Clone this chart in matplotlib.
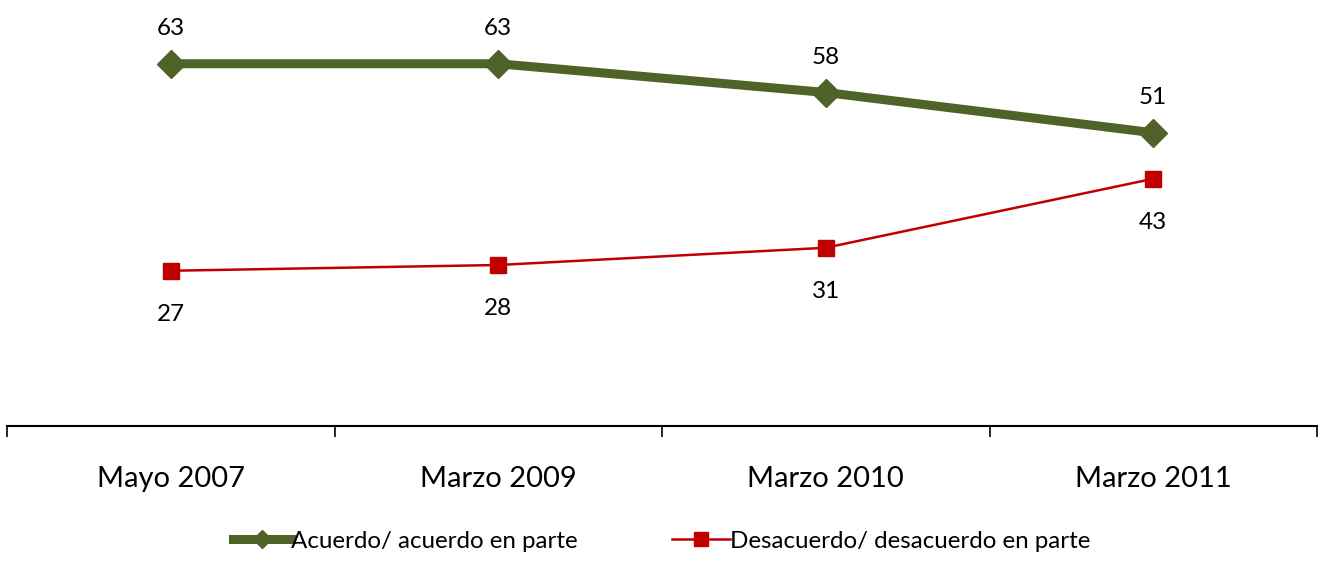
import matplotlib
matplotlib.use("Agg")
import matplotlib.pyplot as plt
from matplotlib.lines import Line2D

categories = ["Mayo 2007", "Marzo 2009", "Marzo 2010", "Marzo 2011"]
acuerdo = [63, 63, 58, 51]
desacuerdo = [27, 28, 31, 43]
series_names = ["Acuerdo/ acuerdo en parte", "Desacuerdo/ desacuerdo en parte"]

green = "#4F6228"
red = "#C00000"

plt.rcParams["font.family"] = ["Lato", "DejaVu Sans"]

fig = plt.figure(figsize=(13.23, 5.61), dpi=100)
ax = fig.add_axes([7 / 1323, (561 - 426) / 561, 1310 / 1323, 402.5 / 561])

x = list(range(len(categories)))
ax.plot(x, acuerdo, color=green, lw=6.5, marker="D", ms=14, solid_joinstyle="round")
ax.plot(x, desacuerdo, color=red, lw=1.8, marker="s", ms=11.5)

for i, v in enumerate(acuerdo):
    ax.annotate(str(v), (i, v), xytext=(0, 18), textcoords="offset points",
                ha="center", va="bottom", fontsize=17.5)
for i, v in enumerate(desacuerdo):
    ax.annotate(str(v), (i, v), xytext=(0, -24), textcoords="offset points",
                ha="center", va="top", fontsize=17.5)

ax.set_xlim(-0.5, 3.5)
ax.set_ylim(0, 70)
for s in ["top", "right", "left"]:
    ax.spines[s].set_visible(False)
ax.spines["bottom"].set_linewidth(1.5)
ax.set_yticks([])
ax.set_xticks([-0.5, 0.5, 1.5, 2.5, 3.5])
ax.set_xticklabels([])
ax.tick_params(axis="x", length=8, width=1.2, direction="out")
for i, c in enumerate(categories):
    ax.text(i, -9.2, c, ha="center", va="center", fontsize=21)

handles = [Line2D([], [], color=green, lw=6.5, marker="D", ms=9),
           Line2D([], [], color=red, lw=1.8, marker="s", ms=10)]
fig.legend(handles, series_names, loc="center", bbox_to_anchor=(0.5, 0.035),
           ncol=2, frameon=False, fontsize=17.4, handlelength=2.4,
           handletextpad=0.0, columnspacing=3.9)

fig.savefig("out.png", dpi=100)
